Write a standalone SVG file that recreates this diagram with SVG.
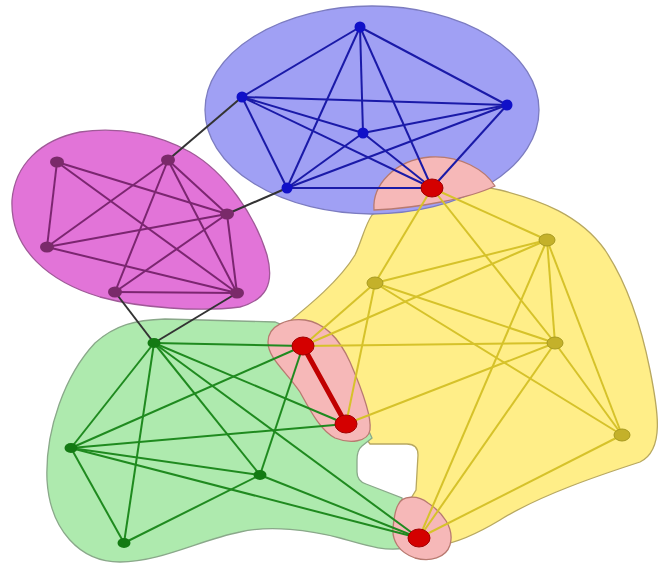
<svg xmlns="http://www.w3.org/2000/svg" width="664" height="565" viewBox="0 0 664 565">
<style>
.hull{stroke-width:1.3}
.hy{fill:#ffee88;stroke:#b8a860}
.hg{fill:#aeeaae;stroke:#8aa88a}
.hb{fill:#a0a0f4;stroke:#7c7cc0}
.hm{fill:#e274d8;stroke:#a05a98}
.hp{fill:#f6b8b8;stroke:#b87a70}
.eb line{stroke:#1a1aa8;stroke-width:2}
.em line{stroke:#7b2670;stroke-width:2}
.eg line{stroke:#1f8a1f;stroke-width:2}
.ey line{stroke:#d6c22a;stroke-width:2}
.ex line{stroke:#333333;stroke-width:2}
.er{stroke:#c00000;stroke-width:5;stroke-linecap:round}
.nb{fill:#1010c8}
.nm{fill:#7a2a6a}
.ng{fill:#137a13}
.ny{fill:#c4b12a;stroke:#a89a20;stroke-width:1}
.nr{fill:#d40000;stroke:#a00000;stroke-width:1}
</style>
<g id="hulls">
<path id="hull-yellow" class="hull hy" d="M 372,215 C 395,195 460,180 500,190 C 540,200 580,215 605,250 C 625,280 640,320 650,370 C 658,410 665,450 640,462 C 600,475 540,495 500,520 C 475,535 455,543 440,545 L 410,500 L 416,490 L 418,455 Q 418,444 407,444 L 370,444 L 285,325 C 310,305 340,280 355,255 C 362,240 365,225 372,215 Z"/>
<path id="hull-green" class="hull hg" d="M 95,343 C 115,325 135,320 165,319 L 275,322 L 330,345 L 372,438 L 362,446 Q 357,450 357,460 L 357,472 Q 357,481 366,484 L 402,498 L 405,548 C 385,552 365,545 340,538 C 310,530 270,525 240,532 C 200,540 160,562 120,562 C 80,562 50,530 47,480 C 45,430 65,375 95,343 Z"/>
<ellipse id="hull-blue" class="hull hb" cx="372" cy="110" rx="167" ry="104"/>
<path id="hull-magenta" class="hull hm" d="M 12,200 C 15,165 40,140 80,132 C 120,126 160,135 190,152 C 225,172 255,215 267,255 C 275,285 265,300 240,307 C 200,312 140,308 100,297 C 50,282 10,250 12,200 Z"/>
<path id="hull-pink1" class="hull hp" d="M 374,210 C 372,185 395,160 430,157 C 460,155 485,170 495,186 C 470,198 420,208 374,210 Z"/>
<path id="hull-pink2" class="hull hp" d="M 268,342 C 268,325 288,318 305,320 C 325,323 340,340 350,362 C 360,385 372,415 370,430 C 368,442 350,444 335,438 C 320,430 310,410 300,392 C 285,370 268,358 268,342 Z"/>
<path id="hull-pink3" class="hull hp" d="M 398,505 C 402,495 418,495 428,503 C 442,512 455,528 450,545 C 446,558 430,562 415,558 C 398,552 392,540 393,528 C 394,518 395,510 398,505 Z"/>
</g>
<g id="connectors">
<g class="eb">
<line x1="360" y1="27" x2="242" y2="97"/>
<line x1="360" y1="27" x2="507" y2="105"/>
<line x1="360" y1="27" x2="363" y2="133"/>
<line x1="360" y1="27" x2="287" y2="188"/>
<line x1="360" y1="27" x2="432" y2="188"/>
<line x1="242" y1="97" x2="507" y2="105"/>
<line x1="242" y1="97" x2="363" y2="133"/>
<line x1="242" y1="97" x2="287" y2="188"/>
<line x1="242" y1="97" x2="432" y2="188"/>
<line x1="507" y1="105" x2="363" y2="133"/>
<line x1="507" y1="105" x2="287" y2="188"/>
<line x1="507" y1="105" x2="432" y2="188"/>
<line x1="363" y1="133" x2="287" y2="188"/>
<line x1="363" y1="133" x2="432" y2="188"/>
<line x1="287" y1="188" x2="432" y2="188"/>
</g>
<g class="em">
<line x1="57" y1="162" x2="47" y2="247"/>
<line x1="57" y1="162" x2="227" y2="214"/>
<line x1="57" y1="162" x2="237" y2="293"/>
<line x1="168" y1="160" x2="47" y2="247"/>
<line x1="168" y1="160" x2="115" y2="292"/>
<line x1="168" y1="160" x2="237" y2="293"/>
<line x1="168" y1="160" x2="227" y2="214"/>
<line x1="227" y1="214" x2="47" y2="247"/>
<line x1="227" y1="214" x2="115" y2="292"/>
<line x1="227" y1="214" x2="237" y2="293"/>
<line x1="47" y1="247" x2="237" y2="293"/>
<line x1="115" y1="292" x2="237" y2="293"/>
</g>
<g class="eg">
<line x1="154" y1="343" x2="303" y2="346"/>
<line x1="154" y1="343" x2="71" y2="448"/>
<line x1="154" y1="343" x2="124" y2="543"/>
<line x1="154" y1="343" x2="260" y2="475"/>
<line x1="154" y1="343" x2="346" y2="424"/>
<line x1="154" y1="343" x2="419" y2="538"/>
<line x1="71" y1="448" x2="124" y2="543"/>
<line x1="71" y1="448" x2="303" y2="346"/>
<line x1="71" y1="448" x2="346" y2="424"/>
<line x1="71" y1="448" x2="260" y2="475"/>
<line x1="71" y1="448" x2="419" y2="538"/>
<line x1="260" y1="475" x2="124" y2="543"/>
<line x1="260" y1="475" x2="303" y2="346"/>
<line x1="260" y1="475" x2="419" y2="538"/>
</g>
<g class="ey">
<line x1="432" y1="188" x2="375" y2="283"/>
<line x1="432" y1="188" x2="547" y2="240"/>
<line x1="432" y1="188" x2="555" y2="343"/>
<line x1="375" y1="283" x2="547" y2="240"/>
<line x1="375" y1="283" x2="555" y2="343"/>
<line x1="375" y1="283" x2="622" y2="435"/>
<line x1="375" y1="283" x2="303" y2="346"/>
<line x1="375" y1="283" x2="346" y2="424"/>
<line x1="547" y1="240" x2="555" y2="343"/>
<line x1="547" y1="240" x2="622" y2="435"/>
<line x1="547" y1="240" x2="303" y2="346"/>
<line x1="547" y1="240" x2="419" y2="538"/>
<line x1="555" y1="343" x2="622" y2="435"/>
<line x1="555" y1="343" x2="303" y2="346"/>
<line x1="555" y1="343" x2="346" y2="424"/>
<line x1="555" y1="343" x2="419" y2="538"/>
<line x1="622" y1="435" x2="419" y2="538"/>
</g>
<g class="ex">
<line x1="242" y1="97" x2="168" y2="160"/>
<line x1="287" y1="188" x2="227" y2="214"/>
<line x1="115" y1="292" x2="154" y2="343"/>
<line x1="237" y1="293" x2="154" y2="343"/>
</g>
<line class="er" x1="303" y1="346" x2="346" y2="424"/>
</g>
<g id="node-b1"><circle class="nb" cx="360" cy="27" r="5.5"/></g>
<g id="node-b2"><circle class="nb" cx="242" cy="97" r="5.5"/></g>
<g id="node-b3"><circle class="nb" cx="507" cy="105" r="5.5"/></g>
<g id="node-b4"><circle class="nb" cx="363" cy="133" r="5.5"/></g>
<g id="node-b5"><circle class="nb" cx="287" cy="188" r="5.5"/></g>
<g id="node-m1"><ellipse class="nm" cx="57" cy="162" rx="7" ry="5.5"/></g>
<g id="node-m2"><ellipse class="nm" cx="168" cy="160" rx="7" ry="5.5"/></g>
<g id="node-m3"><ellipse class="nm" cx="227" cy="214" rx="7" ry="5.5"/></g>
<g id="node-m4"><ellipse class="nm" cx="47" cy="247" rx="7" ry="5.5"/></g>
<g id="node-m5"><ellipse class="nm" cx="115" cy="292" rx="7" ry="5.5"/></g>
<g id="node-m6"><ellipse class="nm" cx="237" cy="293" rx="7" ry="5.5"/></g>
<g id="node-g1"><ellipse class="ng" cx="154" cy="343" rx="6.5" ry="5"/></g>
<g id="node-g2"><ellipse class="ng" cx="71" cy="448" rx="6.5" ry="5"/></g>
<g id="node-g3"><ellipse class="ng" cx="260" cy="475" rx="6.5" ry="5"/></g>
<g id="node-g4"><ellipse class="ng" cx="124" cy="543" rx="6.5" ry="5"/></g>
<g id="node-y1"><ellipse class="ny" cx="375" cy="283" rx="8" ry="6"/></g>
<g id="node-y2"><ellipse class="ny" cx="547" cy="240" rx="8" ry="6"/></g>
<g id="node-y3"><ellipse class="ny" cx="555" cy="343" rx="8" ry="6"/></g>
<g id="node-y4"><ellipse class="ny" cx="622" cy="435" rx="8" ry="6"/></g>
<g id="node-r1"><ellipse class="nr" cx="432" cy="188" rx="11" ry="9"/></g>
<g id="node-r2"><ellipse class="nr" cx="303" cy="346" rx="11" ry="9"/></g>
<g id="node-r3"><ellipse class="nr" cx="346" cy="424" rx="11" ry="9"/></g>
<g id="node-r4"><ellipse class="nr" cx="419" cy="538" rx="11" ry="9"/></g>
</svg>
